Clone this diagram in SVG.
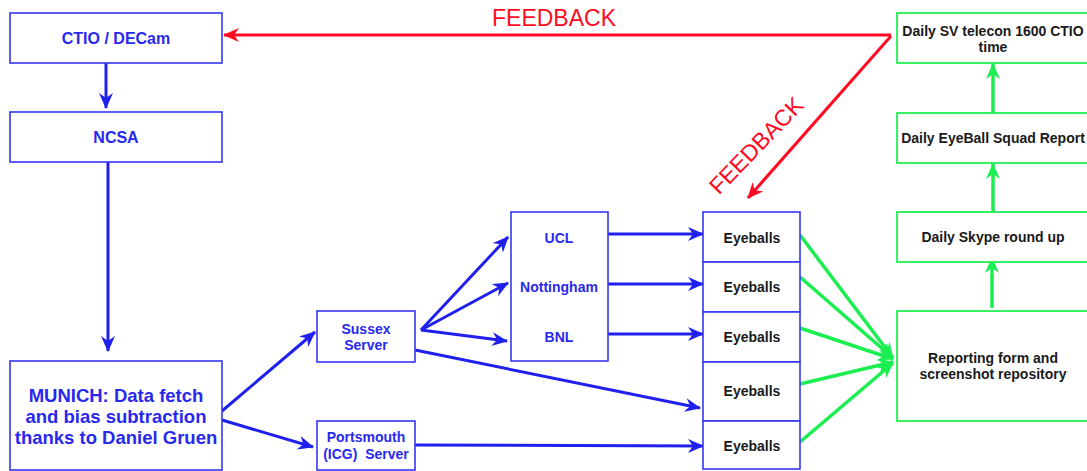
<svg xmlns="http://www.w3.org/2000/svg" width="1087" height="471" viewBox="0 0 1087 471">
<style>
.bb{fill:#fff;stroke:#3535f5;stroke-width:1.6}
.gb{fill:#fff;stroke:#22f055;stroke-width:1.8}
.bt{font-family:"Liberation Sans",Arial,sans-serif;font-weight:bold;fill:#2828ee;text-anchor:middle}
.kt{font-family:"Liberation Sans",Arial,sans-serif;font-weight:bold;fill:#1a1a1a;text-anchor:middle;font-size:14px}
.fb{font-family:"Liberation Sans",Arial,sans-serif;fill:#ff0a22;font-size:23px;text-anchor:middle}
.bl{stroke:#2020ee;stroke-width:3;fill:none;marker-end:url(#ab)}
.gl{stroke:#1aee50;stroke-width:3.5;fill:none;marker-end:url(#ag)}
.rl{stroke:#ff0a22;stroke-width:3;fill:none}
</style>
<defs>
<marker id="ab" markerUnits="userSpaceOnUse" markerWidth="16" markerHeight="14" refX="15" refY="7" orient="auto"><path d="M0,0 L16,7 L0,14 L5,7 z" fill="#2020ee"/></marker>
<marker id="ag" markerUnits="userSpaceOnUse" markerWidth="16" markerHeight="14" refX="15" refY="7" orient="auto"><path d="M0,0 L16,7 L0,14 L5,7 z" fill="#1aee50"/></marker>
<marker id="ar" markerUnits="userSpaceOnUse" markerWidth="16" markerHeight="14" refX="15" refY="7" orient="auto"><path d="M0,0 L16,7 L0,14 L5,7 z" fill="#ff0a22"/></marker>
</defs>
<g id="connectors">
<path class="bl" d="M106,63 L106,108"/>
<path class="bl" d="M108,162 L108,351"/>
<path class="bl" d="M222,411 L315,332"/>
<path class="bl" d="M222,420 L313,447"/>
<path class="bl" d="M421,330 L508,237"/>
<path class="bl" d="M421,330 L508,283"/>
<path class="bl" d="M421,330 L507,341"/>
<path class="bl" d="M415,350 L700,408"/>
<path class="bl" d="M415,445 L703,446"/>
<path class="bl" d="M608,234 L703,234"/>
<path class="bl" d="M608,284 L703,284"/>
<path class="bl" d="M608,334 L703,334"/>
<path class="gl" d="M800,235 L893,358"/>
<path class="gl" d="M800,277 L893,358"/>
<path class="gl" d="M800,328 L893,359"/>
<path class="gl" d="M800,384 L893,362"/>
<path class="gl" d="M800,442 L893,363"/>
<path class="gl" d="M992,308 L992,258"/>
<path class="gl" d="M993,212 L993,164"/>
<path class="gl" d="M993,113 L993,64"/>
<path class="rl" d="M891,35 L224,35" marker-end="url(#ar)"/>
<path class="rl" d="M891,36 L748,198" marker-end="url(#ar)"/>
<text class="fb" x="554" y="26">FEEDBACK</text>
<text class="fb" x="0" y="0" transform="translate(762,151) rotate(-46)">FEEDBACK</text>
</g>
<g id="ctio"><rect class="bb" x="10" y="13" width="212" height="50"/><text class="bt" x="116" y="44" font-size="16">CTIO / DECam</text></g>
<g id="ncsa"><rect class="bb" x="10" y="112" width="212" height="50"/><text class="bt" x="116" y="143" font-size="16">NCSA</text></g>
<g id="munich"><rect class="bb" x="10" y="361" width="212" height="109"/><text class="bt" font-size="18.5"><tspan x="116" y="402">MUNICH: Data fetch</tspan><tspan x="116" y="423">and bias subtraction</tspan><tspan x="116" y="444">thanks to Daniel Gruen</tspan></text></g>
<g id="sussex"><rect class="bb" x="317" y="311" width="98" height="51"/><text class="bt" font-size="14"><tspan x="366" y="334">Sussex</tspan><tspan x="366" y="350">Server</tspan></text></g>
<g id="portsmouth"><rect class="bb" x="317" y="421" width="98" height="49"/><text class="bt" font-size="14" xml:space="preserve"><tspan x="366" y="442">Portsmouth</tspan><tspan x="366" y="459">(ICG)  Server</tspan></text></g>
<g id="centres"><rect class="bb" x="511" y="212" width="97" height="149"/><text class="bt" font-size="14"><tspan x="559" y="243">UCL</tspan><tspan x="559" y="292">Nottingham</tspan><tspan x="559" y="342">BNL</tspan></text></g>
<g id="eyeballs1"><rect class="bb" x="703" y="212" width="97" height="50"/><text class="kt" x="752" y="243">Eyeballs</text></g>
<g id="eyeballs2"><rect class="bb" x="703" y="262" width="97" height="50"/><text class="kt" x="752" y="292">Eyeballs</text></g>
<g id="eyeballs3"><rect class="bb" x="703" y="312" width="97" height="50"/><text class="kt" x="752" y="342">Eyeballs</text></g>
<g id="eyeballs4"><rect class="bb" x="703" y="362" width="97" height="59"/><text class="kt" x="752" y="396">Eyeballs</text></g>
<g id="eyeballs5"><rect class="bb" x="703" y="421" width="97" height="48"/><text class="kt" x="752" y="451">Eyeballs</text></g>
<g id="telecon"><rect class="gb" x="897" y="13" width="200" height="50"/><text class="kt"><tspan x="993" y="36">Daily SV telecon 1600 CTIO</tspan><tspan x="993" y="52">time</tspan></text></g>
<g id="squad"><rect class="gb" x="897" y="113" width="200" height="50"/><text class="kt" x="993" y="143">Daily EyeBall Squad Report</text></g>
<g id="skype"><rect class="gb" x="897" y="212" width="200" height="50"/><text class="kt" x="993" y="242">Daily Skype round up</text></g>
<g id="reporting"><rect class="gb" x="897" y="311" width="200" height="110"/><text class="kt"><tspan x="993" y="363">Reporting form and</tspan><tspan x="993" y="379">screenshot repository</tspan></text></g>
</svg>
